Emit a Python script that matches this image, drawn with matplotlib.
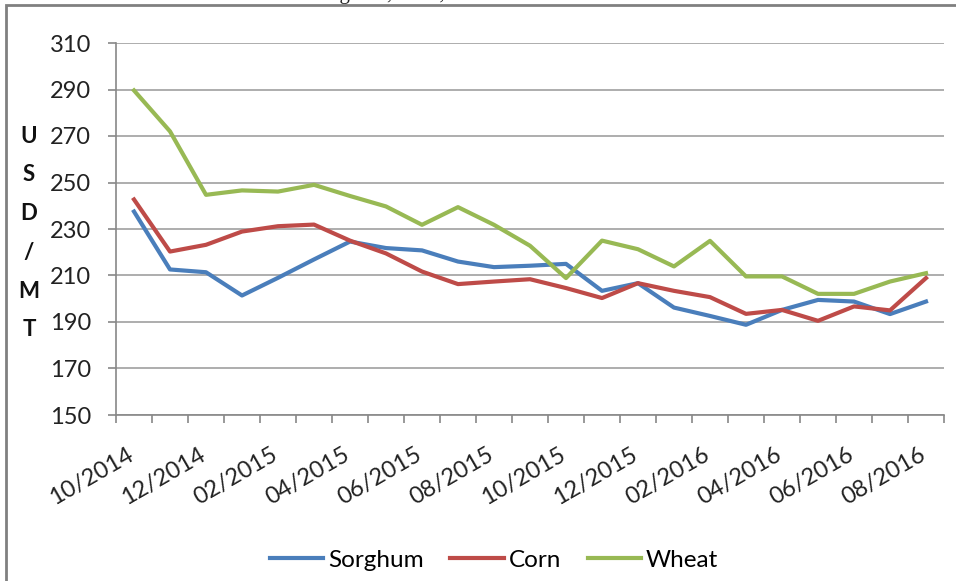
import matplotlib.pyplot as plt
from matplotlib.patches import Rectangle

# monthly export prices, USD per metric ton, 10/2014 .. 08/2016
months = ["10/2014", "11/2014", "12/2014", "01/2015", "02/2015", "03/2015",
          "04/2015", "05/2015", "06/2015", "07/2015", "08/2015", "09/2015",
          "10/2015", "11/2015", "12/2015", "01/2016", "02/2016", "03/2016",
          "04/2016", "05/2016", "06/2016", "07/2016", "08/2016"]

sorghum = [237.5, 212.6, 211.4, 201.4, 209, 216.9, 224.6, 221.8, 220.8, 216,
           213.6, 214.2, 215, 203.4, 206.7, 196.2, 192.6, 188.8, 195.2, 199.5,
           198.8, 193.4, 198.8]
corn = [242.7, 220.3, 223.2, 228.9, 231.2, 231.9, 225, 219.5, 211.7, 206.3,
        207.4, 208.4, 204.6, 200.3, 206.7, 203.4, 200.7, 193.5, 195.2, 190.5,
        196.7, 195, 208.9]
wheat = [289.6, 272, 244.7, 246.6, 246.1, 249, 244.2, 239.7, 231.8, 239.4,
         231.8, 222.8, 208.9, 225, 221.3, 213.9, 224.9, 209.6, 209.6, 202.1,
         202.1, 207.4, 211]

series = [("Sorghum", sorghum, "#4a7ebb"),
          ("Corn", corn, "#be4b48"),
          ("Wheat", wheat, "#98b954")]

plt.rcParams['font.family'] = ['Lato', 'DejaVu Sans']

fig = plt.figure(figsize=(9.56, 5.81), dpi=100)
ax = fig.add_axes([116 / 956, 1 - 415 / 581, 828 / 956, 372 / 581])

x = [i + 0.5 for i in range(len(months))]
for name, vals, col in series:
    ax.plot(x, vals, color=col, lw=3, label=name, solid_joinstyle='round')

ax.set_xlim(0, len(months))
ax.set_ylim(150, 310)
ax.set_yticks(range(150, 311, 20))
ax.grid(axis='y', color='#a0a0a0', lw=1.2)
ax.set_axisbelow(True)

# category axis: ticks between months, labels every second month
# (label anchors nudged left so the rotated text ends at the point)
ax.set_xticks(range(len(months) + 1))
ax.set_xticklabels([])
ax.set_xticks([v - 0.2 for v in x[::2]], minor=True)
ax.set_xticklabels(months[::2], minor=True, rotation=30, ha='right',
                   va='top', rotation_mode='anchor', fontsize=17,
                   color='#222222')
ax.tick_params(axis='x', which='minor', length=0, pad=21)
ax.tick_params(axis='x', which='major', length=6, color='#888888', width=1.2)
ax.tick_params(axis='y', length=6, color='#888888', width=1.2,
               labelsize=17, labelcolor='#222222', pad=12)

for s in ['top', 'right']:
    ax.spines[s].set_visible(False)
for s in ['left', 'bottom']:
    ax.spines[s].set_color('#888888')
    ax.spines[s].set_linewidth(1.2)

fig.text(29 / 956, 1 - 233 / 581, "U\nS\nD\n/\nM\nT", ha='center', va='center',
         fontsize=16, fontweight='bold', linespacing=2.04, color='#111111')

fig.legend(loc='center', bbox_to_anchor=(494 / 956, 1 - 560 / 581), ncol=3,
           frameon=False, fontsize=17.5, handlelength=2.2, columnspacing=1.1,
           handletextpad=0.2)

# partially cut-off caption above the chart frame
fig.text(0.325, 1 + 1 / 581, "Sorghum, Corn, and Wheat", fontsize=15,
         family='Liberation Serif', va='baseline', color='#222222')

fig.patches.append(Rectangle((6 / 956, -0.1), 1.2, 1 - 5 / 581 + 0.1,
                             transform=fig.transFigure, fill=False,
                             edgecolor='#808080', lw=2))

fig.savefig("out.png", dpi=100)
